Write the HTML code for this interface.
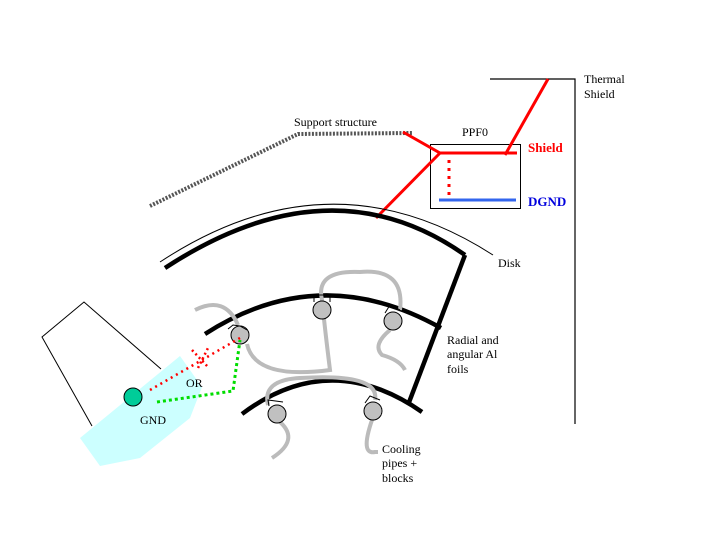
<!DOCTYPE html>
<html><head><style>body{margin:0;background:#fff}svg{display:block}text{font-family:"Liberation Serif",serif;font-size:12px}</style></head><body>
<svg width="720" height="540" viewBox="0 0 720 540">
<!-- thermal shield -->
<polyline points="490,79 575,79 575,424" fill="none" stroke="#000" stroke-width="1.2"/>
<text x="584" y="83">Thermal</text><text x="584" y="98">Shield</text>
<!-- support -->
<polyline points="150,206 298,134 412,133" fill="none" stroke="#555" stroke-width="4" stroke-dasharray="2 1.5"/>
<text x="294" y="126">Support structure</text>
<!-- PPF0 -->
<rect x="430.5" y="144.5" width="90" height="64" fill="none" stroke="#000"/>
<text x="462" y="136">PPF0</text>
<polyline points="403,132 440,153 517,153" fill="none" stroke="red" stroke-width="3"/>
<line x1="440" y1="153" x2="376" y2="218" stroke="red" stroke-width="3"/>
<line x1="548" y1="79" x2="505" y2="155" stroke="red" stroke-width="3"/>
<line x1="449" y1="160" x2="449" y2="196" stroke="red" stroke-width="3" stroke-dasharray="3 5"/>
<line x1="439" y1="200" x2="516" y2="200" stroke="#3366ee" stroke-width="3"/>
<text x="528" y="152" fill="red" font-weight="bold" style="font-size:13px">Shield</text>
<text x="528" y="206" fill="#0000dd" font-weight="bold" style="font-size:13px">DGND</text>
<!-- disk -->
<path d="M160,262 Q330,150 493,255" fill="none" stroke="#000" stroke-width="1"/>
<path d="M165,268 Q330,160 465,255" fill="none" stroke="#000" stroke-width="4.5"/>
<text x="498" y="267">Disk</text>
<line x1="465" y1="255" x2="408" y2="405" stroke="#000" stroke-width="4.5"/>
<!-- foils -->
<path d="M205,334 Q320,260 441,328" fill="none" stroke="#000" stroke-width="4.5"/>
<path d="M242,414 Q330,348 422,412" fill="none" stroke="#000" stroke-width="4.5"/>
<text x="447" y="344">Radial and</text><text x="447" y="358">angular Al</text><text x="447" y="373">foils</text>
<!-- pipes -->
<g fill="none" stroke="#bbb" stroke-width="4">
<path d="M195,310 Q225,295 238,325"/>
<path d="M247,344 Q255,380 330,370 Q325,330 322,300 Q315,270 360,272 Q405,268 400,310"/>
<path d="M390,330 Q372,345 382,355 Q400,360 405,370"/>
<path d="M268,405 Q262,380 300,378 Q380,373 375,400"/>
<path d="M280,422 Q300,440 272,458"/>
<path d="M372,420 Q360,455 375,452 L378,452"/>
</g>
<!-- blocks -->
<g fill="#c0c0c0" stroke="#000" stroke-width="1">
<circle cx="240" cy="335" r="9"/><circle cx="322" cy="310" r="9"/><circle cx="393" cy="321" r="9"/><circle cx="277" cy="414" r="9"/><circle cx="373" cy="411" r="9"/>
</g>
<g stroke="#000" stroke-width="1" fill="none">
<polyline points="228,329 233,325 240,326 247,330"/><polyline points="314,302 314,295 330,295 330,302"/>
<polyline points="385,313 390,305 400,310"/><polyline points="269,406 268,400 283,402"/><polyline points="365,403 370,396 380,400"/>
</g>
<text x="382" y="453">Cooling</text><text x="382" y="467">pipes +</text><text x="382" y="482">blocks</text>
<!-- left -->
<polyline points="92,426 42,337 84,302 161,369" fill="none" stroke="#000" stroke-width="1"/>
<polygon points="80,438 180,356 202,387 190,418 140,458 100,466" fill="#ccffff"/>
<circle cx="133" cy="397" r="9" fill="#00cc99" stroke="#000" stroke-width="1"/>
<text x="140" y="424">GND</text><text x="186" y="387">OR</text>
<polyline points="150,390 240,338" fill="none" stroke="red" stroke-width="2.5" stroke-dasharray="2 4"/>
<path d="M192,350 L208,367 M198,368 L208,348" stroke="red" stroke-width="2.5" stroke-dasharray="2 3"/>
<polyline points="157,402 233,391 240,340" fill="none" stroke="#00dd00" stroke-width="3" stroke-dasharray="3 3"/>
</svg>
</body></html>
